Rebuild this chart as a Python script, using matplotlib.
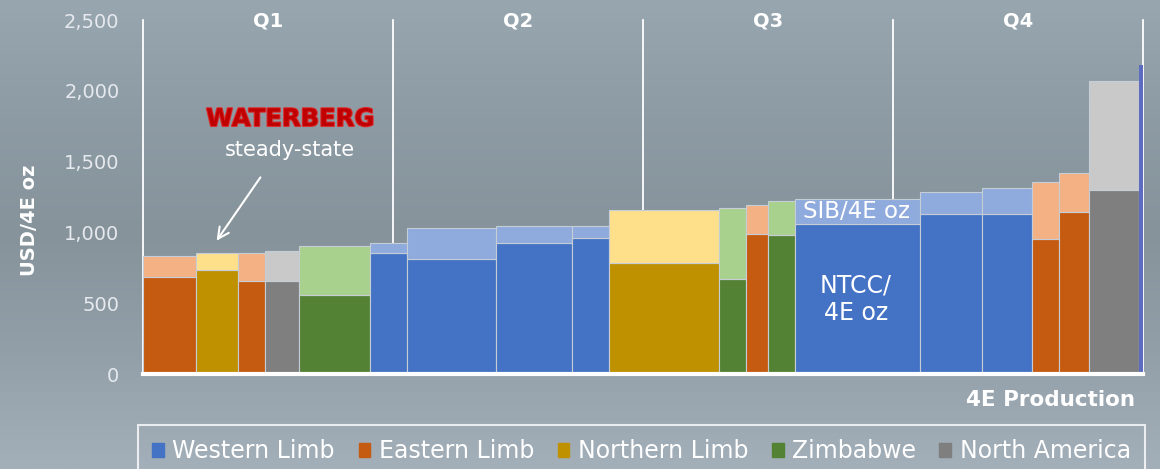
import numpy as np
import matplotlib.pyplot as plt
import matplotlib.patheffects as pe

# datos de la curva de costos (ancho = % de produccion 4E)
regiones = ['Eastern Limb', 'Northern Limb', 'Eastern Limb', 'North America', 'Zimbabwe',
            'Western Limb', 'Western Limb', 'Western Limb', 'Western Limb', 'Northern Limb',
            'Zimbabwe', 'Eastern Limb', 'Zimbabwe', 'Western Limb', 'Western Limb',
            'Western Limb', 'Eastern Limb', 'Eastern Limb', 'North America', 'Western Limb']
anchos = [5.3, 4.15, 2.75, 3.4, 7.1, 3.65, 8.9, 7.6, 3.75, 10.95,
          2.7, 2.2, 2.7, 12.5, 6.2, 5.0, 2.75, 2.95, 5.0, 0.45]
ntcc = [687, 736, 659, 659, 561, 855, 813, 926, 961, 785,
        673, 989, 982, 1059, 1129, 1129, 954, 1143, 1297, 2180]
sib = [834, 855, 855, 870, 905, 926, 1031, 1045, 1045, 1157,
       1171, 1192, 1220, 1234, 1283, 1311, 1353, 1423, 2069, 2180]
cuartiles = ['Q1', 'Q2', 'Q3', 'Q4']
leyenda = ['Western Limb', 'Eastern Limb', 'Northern Limb', 'Zimbabwe', 'North America']

oscuro = {'Western Limb': '#4472c4', 'Eastern Limb': '#c55a11', 'Northern Limb': '#bf9000',
          'Zimbabwe': '#548235', 'North America': '#7f7f7f'}
claro = {'Western Limb': '#8faadc', 'Eastern Limb': '#f4b183', 'Northern Limb': '#ffe08a',
         'Zimbabwe': '#a9d18e', 'North America': '#c9c9c9'}

ventana = plt.figure(figsize=(11.6, 4.69), dpi=100)

# fondo degradado
fondo = ventana.add_axes([0, 0, 1, 1], zorder=-10)
grad = np.array([[152, 166, 176], [141, 155, 164], [134, 147, 155], [146, 159, 168], [163, 175, 185]]) / 255.0
g = np.array([np.interp(np.linspace(0, 4, 200), np.arange(5), grad[:, c]) for c in range(3)]).T
fondo.imshow(g[:, None, :], aspect='auto', extent=[0, 1, 0, 1])
fondo.axis('off')

plano = ventana.add_axes([143 / 1160, 95 / 469, 1000 / 1160, 354 / 469])
plano.patch.set_alpha(0)

izq = np.concatenate([[0], np.cumsum(anchos)[:-1]])
for x0, w, r, a, b in zip(izq, anchos, regiones, ntcc, sib):
    plano.bar(x0, a, width=w, align='edge', color=oscuro[r], edgecolor='#c5ced6', linewidth=0.8, zorder=3)
    if b > a:
        plano.bar(x0, b - a, bottom=a, width=w, align='edge', color=claro[r],
                  edgecolor='#c5ced6', linewidth=0.8, zorder=3)
# ultima barra fina
plano.bar(izq[-1], ntcc[-1], width=anchos[-1], align='edge', color='#5d6cc0', linewidth=0, zorder=4)

# lineas de cuartiles
for k in range(5):
    plano.plot([25 * k, 25 * k], [0, 2500], color='white', lw=1.3, zorder=1, clip_on=False)
for k, q in enumerate(cuartiles):
    plano.text(25 * k + 12.5, 2490, q, color='white', fontsize=14, fontweight='bold',
               ha='center', va='center')
plano.plot([0, 100], [0, 0], color='white', lw=3, zorder=5, clip_on=False)

plano.set_xlim(0, 100)
plano.set_ylim(0, 2500)
plano.set_xticks([])
plano.set_yticks([0, 500, 1000, 1500, 2000, 2500])
plano.set_yticklabels(['0', '500', '1,000', '1,500', '2,000', '2,500'])
plano.tick_params(axis='y', length=0, pad=17, labelcolor='#e6eaee', labelsize=14)
for s in plano.spines.values():
    s.set_visible(False)
plano.set_ylabel('USD/4E oz', color='white', fontsize=14, fontweight='bold')
plano.yaxis.set_label_coords(-104 / 1000, 0.435)

# textos dentro del grafico
plano.text(66.0, 1151, 'SIB/4E oz', color='white', fontsize=16.5, ha='left', va='center', zorder=6)
plano.text(71.3, 530, 'NTCC/\n4E oz', color='white', fontsize=17, ha='center', va='center',
           linespacing=1.2, zorder=6)
plano.text(99.2, -185, '4E Production', color='white', fontsize=15.5, fontweight='bold',
           ha='right', va='center', clip_on=False)

plano.text(14.7, 1801, 'WATERBERG', color='#c00000', fontsize=17.5, fontweight='heavy',
           ha='center', va='center',
           path_effects=[pe.withStroke(linewidth=1.5, foreground='#d83030')])
plano.text(14.7, 1582, 'steady-state', color='white', fontsize=15, ha='center', va='center')
plano.annotate('', xy=(7.2, 925), xytext=(11.9, 1405),
               arrowprops=dict(arrowstyle='->', color='white', lw=1.5, mutation_scale=20))

# leyenda
manijas = [plt.Rectangle((0, 0), 1, 1, color=oscuro[r]) for r in leyenda]
ley = ventana.legend(manijas, leyenda, loc='center', bbox_to_anchor=(641.5 / 1160, 18 / 469), ncol=5,
                     frameon=True, fontsize=17, handlelength=0.5, handleheight=0.55,
                     handletextpad=0.35, columnspacing=1.0, borderpad=0.6, fancybox=False)
ley.get_frame().set_facecolor('none')
ley.get_frame().set_edgecolor('white')
ley.get_frame().set_linewidth(1.5)
for t in ley.get_texts():
    t.set_color('white')

plt.savefig('out.png', dpi=100)
